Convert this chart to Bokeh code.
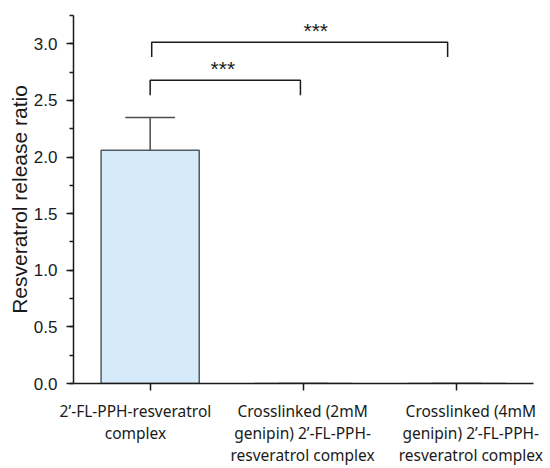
from bokeh.plotting import figure
from bokeh.models import (Range1d, FixedTicker, SingleIntervalTicker, LinearAxis,
                          ColumnDataSource, CustomJSTickFormatter)
from bokeh.core.properties import value
from bokeh.embed import file_html
from bokeh.resources import INLINE

# ---- data ----
categories = [
    "2\u2019-FL-PPH-resveratrol\ncomplex",
    "Crosslinked (2mM\ngenipin) 2\u2019-FL-PPH-\nresveratrol complex",
    "Crosslinked (4mM\ngenipin) 2\u2019-FL-PPH-\nresveratrol complex",
]
cat_pos = [1, 2, 3]
means = [2.06, 0.0, 0.0]
errors = [0.29, 0.0, 0.0]

# significance brackets
br_x_left = [1.0, 1.01]
br_x_right = [1.98, 2.94]
br_y_top = [2.678, 3.014]
br_y_leg = [2.546, 2.884]
br_text = ["***", "***"]
br_text_x = [1.474, 2.08]
br_text_y = [2.785, 3.12]

# where the category labels sit along x
lab_x = [0.904, 1.994, 3.091]

p = figure(width=550, height=468, output_backend="svg", toolbar_location=None,
           x_range=Range1d(0.5, 3.5), y_range=Range1d(0, 3.25),
           min_border_left=73, min_border_right=17, min_border_top=15, min_border_bottom=83)
p.background_fill_color = "white"
p.border_fill_color = "white"
p.outline_line_color = None
p.xgrid.visible = False
p.ygrid.visible = False

bars = ColumnDataSource(dict(x=cat_pos, top=means,
                             up=[m + e for m, e in zip(means, errors)],
                             cl=[x - 0.162 for x in cat_pos], cr=[x + 0.162 for x in cat_pos]))
p.segment(x0="x", y0="top", x1="x", y1="up", source=bars, line_color="#4d4d4d", line_width=1.5)
p.segment(x0="cl", y0="up", x1="cr", y1="up", source=bars, line_color="#4d4d4d", line_width=1.5)
p.vbar(x="x", top="top", bottom=0, width=0.64, source=bars,
       fill_color="#d6ebfa", line_color="#555a60", line_width=1.5)

xs = [[l, l, r, r] for l, r in zip(br_x_left, br_x_right)]
ys = [[b, t, t, b] for b, t in zip(br_y_leg, br_y_top)]
p.multi_line(xs=xs, ys=ys, line_color="#1a1a1a", line_width=1.5)
p.text(x=br_text_x, y=br_text_y, text=br_text, text_align="center", text_baseline="middle",
       text_font=value("Liberation Sans"), text_font_size="21px", text_color="#1a1a1a")

# x axis: tick marks only
xa = p.xaxis[0]
xa.ticker = FixedTicker(ticks=cat_pos)
xa.major_label_overrides = {1: "", 2: "", 3: ""}
xa.major_label_text_font_size = "0px"
xa.major_label_standoff = 0
xa.minor_tick_line_color = None
xa.major_tick_in = 0
xa.major_tick_out = 7
xa.axis_line_color = "#1a1a1a"
xa.axis_line_width = 1.5
xa.major_tick_line_color = "#1a1a1a"
xa.major_tick_line_width = 1.5

# x axis: category labels
la = LinearAxis(ticker=FixedTicker(ticks=lab_x),
                major_label_overrides={lab_x[i]: categories[i] for i in range(3)})
la.axis_line_color = None
la.major_tick_line_color = None
la.minor_tick_line_color = None
la.major_tick_out = 0
la.major_tick_in = 0
la.minor_tick_out = 0
la.minor_tick_in = 0
la.major_label_standoff = 9
la.major_label_text_font = "Noto Sans"
la.major_label_text_font_size = "15.5px"
la.major_label_text_color = "#1a1a1a"
la.major_label_text_line_height = 1.0
p.add_layout(la, "below")

ya = p.yaxis[0]
ya.ticker = SingleIntervalTicker(interval=0.5, num_minor_ticks=2)
ya.formatter = CustomJSTickFormatter(code="return tick.toFixed(1);")
ya.major_tick_in = 0
ya.major_tick_out = 7
ya.minor_tick_in = 0
ya.minor_tick_out = 4
ya.axis_line_color = "#1a1a1a"
ya.axis_line_width = 1.5
ya.major_tick_line_color = "#1a1a1a"
ya.major_tick_line_width = 1.5
ya.minor_tick_line_color = "#1a1a1a"
ya.minor_tick_line_width = 1.5
ya.major_label_text_font = "Liberation Sans"
ya.major_label_text_font_size = "17px"
ya.major_label_text_color = "#1a1a1a"
ya.major_label_standoff = 9
ya.axis_label = "Resveratrol release ratio"
ya.axis_label_text_font = "Liberation Sans"
ya.axis_label_text_font_size = "21px"
ya.axis_label_text_font_style = "normal"
ya.axis_label_text_color = "#1a1a1a"
ya.axis_label_standoff = 0

open("out.html", "w").write(file_html(p, INLINE))
